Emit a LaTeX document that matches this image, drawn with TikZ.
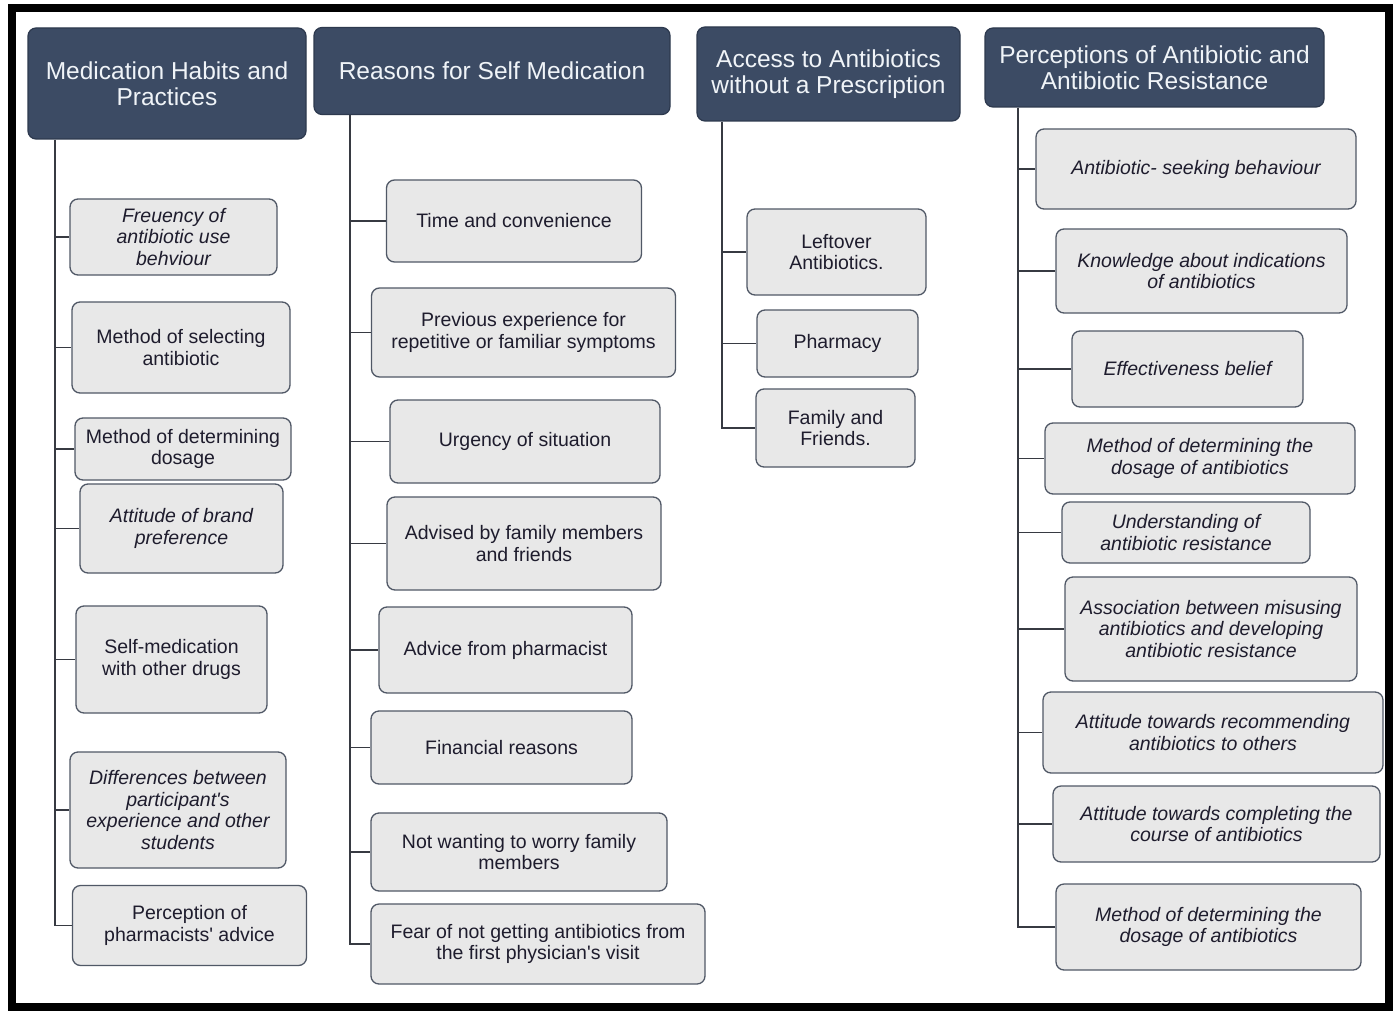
\documentclass[tikz,border=0pt]{standalone}
\usepackage{fontspec}
\setmainfont{Liberation Sans}
\definecolor{headfill}{RGB}{60,75,100}
\definecolor{headdraw}{RGB}{45,57,78}
\definecolor{headtext}{RGB}{240,244,248}
\definecolor{boxfill}{RGB}{232,232,232}
\definecolor{boxdraw}{RGB}{80,88,102}
\definecolor{boxtext}{RGB}{30,28,45}
\definecolor{linecol}{RGB}{55,58,66}
\begin{document}
\begin{tikzpicture}[x=1pt,y=-1pt,
  header/.style={draw=headdraw, line width=1.2pt, fill=headfill, rounded corners=8pt,
    text=headtext, align=center, inner sep=0pt,
    font=\fontsize{24.5}{26.5}\selectfont},
  child/.style={draw=boxdraw, line width=1.3pt, fill=boxfill, rounded corners=8pt,
    text=boxtext, align=center, inner sep=0pt,
    font=\fontsize{19.5}{21.5}\selectfont},
  childit/.style={child, font=\fontsize{19.5}{21.5}\selectfont\itshape},
  conn/.style={draw=linecol, line width=1.2pt},
]
\useasboundingbox (0,0) rectangle (1396,1011);
\fill[white] (0,0) rectangle (1396,1011);
% outer frame
\draw[line width=8pt, black] (12,8) rectangle (1389,1007);

% ---------- headers ----------
\node[header, minimum width=278, minimum height=111] (h1) at (167,83.5) {Medication Habits and\\Practices};
\node[header, minimum width=356, minimum height=87] (h2) at (492,71) {Reasons for Self Medication};
\node[header, minimum width=263, minimum height=94] (h3) at (828.5,74) {Access to Antibiotics\\without a Prescription};
\node[header, minimum width=339, minimum height=79] (h4) at (1154.5,67.5) {Perceptions of Antibiotic and\\Antibiotic Resistance};

% trunk positions
\coordinate (t1) at (55,0);
\coordinate (t2) at (350,0);
\coordinate (t3) at (722,0);
\coordinate (t4) at (1018,0);

% ---------- column 1 ----------
\node[childit, minimum width=207, minimum height=76] (a1) at (173.5,237) {Freuency of\\antibiotic use\\behviour};
\node[child, minimum width=218, minimum height=91] (a2) at (181,347.5) {Method of selecting\\antibiotic};
\node[child, minimum width=216, minimum height=62] (a3) at (183,449) {Method of determining\\dosage};
\node[childit, minimum width=203, minimum height=89] (a4) at (181.5,528.5) {Attitude of brand\\preference};
\node[child, minimum width=191, minimum height=107] (a5) at (171.5,659.5) {Self-medication\\with other drugs};
\node[childit, minimum width=216, minimum height=116] (a6) at (178,810) {Differences between\\participant\textquotesingle s\\experience and other\\students};
\node[child, minimum width=234, minimum height=80] (a7) at (189.5,925.5) {Perception of\\pharmacists\textquotesingle\ advice};

% ---------- column 2 ----------
\node[child, minimum width=255, minimum height=82] (b1) at (514,221) {Time and convenience};
\node[child, minimum width=304, minimum height=89] (b2) at (523.5,332.5) {Previous experience for\\repetitive or familiar symptoms};
\node[child, minimum width=270, minimum height=83] (b3) at (525,441.5) {Urgency of situation};
\node[child, minimum width=274, minimum height=93] (b4) at (524,543.5) {Advised by family members\\and friends};
\node[child, minimum width=253, minimum height=86] (b5) at (505.5,650) {Advice from pharmacist};
\node[child, minimum width=261, minimum height=73] (b6) at (501.5,747.5) {Financial reasons};
\node[child, minimum width=296, minimum height=78] (b7) at (519,852) {Not wanting to worry family\\members};
\node[child, minimum width=334, minimum height=80] (b8) at (538,944) {Fear of not getting antibiotics from\\the first physician\textquotesingle s visit};

% ---------- column 3 ----------
\node[child, minimum width=179, minimum height=86] (c1) at (836.5,252) {Leftover\\Antibiotics.};
\node[child, minimum width=161, minimum height=67] (c2) at (837.5,343.5) {Pharmacy};
\node[child, minimum width=159, minimum height=78] (c3) at (835.5,428) {Family and\\Friends.};

% ---------- column 4 ----------
\node[childit, minimum width=320, minimum height=80] (d1) at (1196,169) {Antibiotic- seeking behaviour};
\node[childit, minimum width=291, minimum height=84] (d2) at (1201.5,271) {Knowledge about indications\\of antibiotics};
\node[childit, minimum width=231, minimum height=76] (d3) at (1187.5,369) {Effectiveness belief};
\node[childit, minimum width=310, minimum height=71] (d4) at (1200,458.5) {Method of determining the\\dosage of antibiotics};
\node[childit, minimum width=248, minimum height=61] (d5) at (1186,532.5) {Understanding of\\antibiotic resistance};
\node[childit, minimum width=292, minimum height=104] (d6) at (1211,629) {Association between misusing\\antibiotics and developing\\antibiotic resistance};
\node[childit, minimum width=340, minimum height=81] (d7) at (1213,732.5) {Attitude towards recommending\\antibiotics to others};
\node[childit, minimum width=327, minimum height=76] (d8) at (1216.5,824) {Attitude towards completing the\\course of antibiotics};
\node[childit, minimum width=305, minimum height=86] (d9) at (1208.5,927) {Method of determining the\\dosage of antibiotics};

% ---------- connectors ----------
\draw[conn] (h1.south -| t1) |- (a7);
\foreach \n in {a1,a2,a3,a4,a5,a6}
  \draw[conn] (\n.west -| t1) -- (\n.west);
\draw[conn] (h2.south -| t2) |- (b8);
\foreach \n in {b1,b2,b3,b4,b5,b6,b7}
  \draw[conn] (\n.west -| t2) -- (\n.west);
\draw[conn] (h3.south -| t3) |- (c3);
\foreach \n in {c1,c2}
  \draw[conn] (\n.west -| t3) -- (\n.west);
\draw[conn] (h4.south -| t4) |- (d9);
\foreach \n in {d1,d2,d3,d4,d5,d6,d7,d8}
  \draw[conn] (\n.west -| t4) -- (\n.west);
\end{tikzpicture}
\end{document}
